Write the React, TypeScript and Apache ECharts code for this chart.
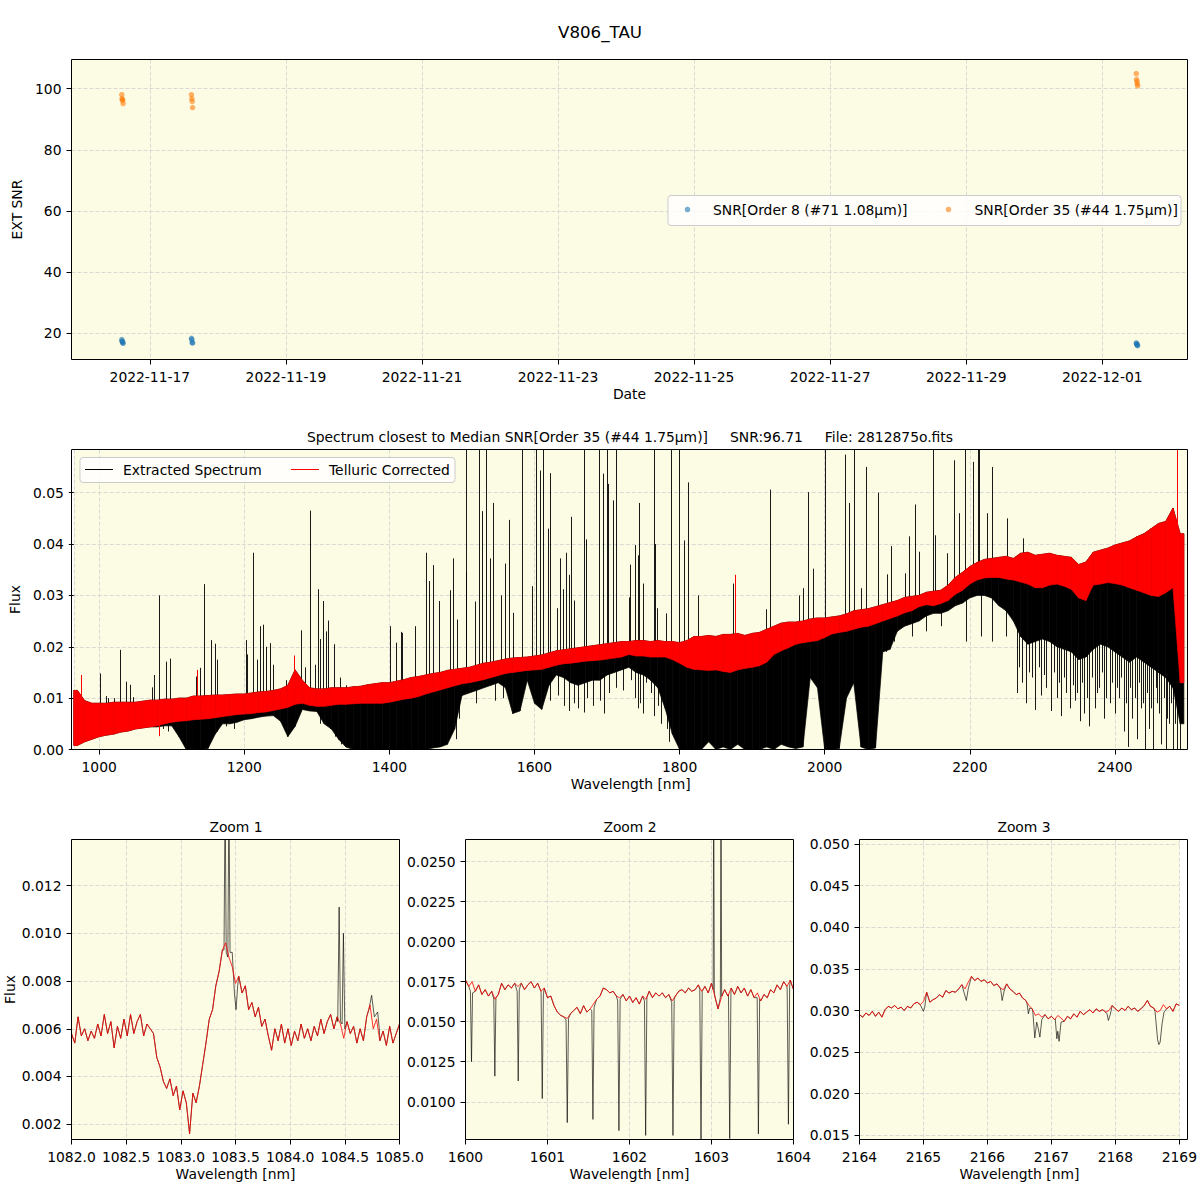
import React, { useEffect, useRef } from "react";
import * as echarts from "echarts";

const FONT = "DejaVu Sans";
const FS = 13.89;
const BG = "#fcfbe3";
const GRID_COLOR = "#d0d0d0";

const TITLE = "V806_TAU";
const SUBTITLE = "Spectrum closest to Median SNR[Order 35 (#44 1.75μm)]     SNR:96.71     File: 2812875o.fits";
const LEGEND_SNR = ["SNR[Order 8 (#71 1.08μm)]", "SNR[Order 35 (#44 1.75μm)]"];
const LEGEND_SPEC = ["Extracted Spectrum", "Telluric Corrected"];
const ZOOM_TITLES = ["Zoom 1", "Zoom 2", "Zoom 3"];

// ---------- Top panel: SNR per observation ----------
const SNR_DATES = [
  "2022-11-16T14:05", "2022-11-16T14:12", "2022-11-16T14:19", "2022-11-16T14:26", "2022-11-16T14:33",
  "2022-11-17T14:40", "2022-11-17T14:48", "2022-11-17T14:56", "2022-11-17T15:04",
  "2022-12-01T12:00", "2022-12-01T12:07", "2022-12-01T12:14", "2022-12-01T12:21", "2022-12-01T12:28",
];
const SNR_ORDER8 = [18.0, 17.5, 17.3, 17.0, 16.8, 18.4, 18.0, 17.0, 16.9, 16.9, 16.6, 16.5, 16.2, 16.0];
const SNR_ORDER35 = [98.0, 96.7, 96.3, 96.2, 95.1, 98.0, 96.7, 95.8, 93.8, 104.9, 103.0, 102.3, 101.5, 100.9];

// ---------- Middle panel: spectrum envelope per 10 nm bin centre (units of 1e-3) ----------
const SPEC_BIN_START = 965;
const SPEC_BIN_WIDTH = 10;
const RED_LO = [
  0.8, 1.5, 2.0, 2.5, 2.8, 3.0, 3.4, 3.6, 4.0, 4.2,
  4.4, 4.6, 5.0, 5.3, 5.5, 5.6, 5.8, 5.9, 6.0, 6.2,
  6.4, 6.6, 6.8, 6.9, 7.0, 7.2, 7.3, 7.6, 7.9, 8.2,
  8.8, 9.0, 8.6, 8.4, 8.4, 8.6, 8.8, 8.8, 8.9, 9.0,
  9.0, 9.0, 9.0, 9.2, 9.5, 9.8, 10.0, 10.3, 10.8, 11.2,
  11.6, 12.0, 12.4, 12.8, 13.0, 13.3, 13.6, 14.0, 14.4, 14.8,
  15.0, 15.2, 15.4, 15.5, 15.6, 16.0, 16.4, 16.7, 16.8, 17.0,
  17.2, 17.3, 17.4, 17.6, 17.8, 18.0, 18.5, 18.2, 18.2, 18.0,
  18.0, 18.0, 17.5, 16.8, 16.0, 15.6, 15.5, 15.4, 15.5, 15.2,
  15.0, 15.5, 15.8, 16.0, 16.3, 17.0, 18.5, 19.2, 19.8, 20.5,
  20.8, 21.0, 21.2, 21.8, 22.5, 22.8, 23.0, 23.4, 23.8, 24.0,
  24.5, 25.0, 25.5, 26.0, 26.6, 27.0, 27.8, 28.2, 28.0, 28.4,
  29.0, 30.2, 31.0, 32.2, 33.0, 33.4, 33.5, 33.5, 33.2, 33.0,
  32.6, 32.2, 31.5, 31.5, 32.0, 32.2, 31.8, 31.2, 29.5, 29.0,
  32.0, 32.2, 32.5, 32.3, 32.0, 31.5, 31.0, 30.5, 30.0, 29.8,
  30.5, 31.5, 13.0,
];
const RED_HI = [
  11.5, 9.5, 9.0, 9.0, 9.0, 9.2, 9.2, 9.2, 9.2, 9.4,
  9.6, 9.6, 9.8, 9.8, 10.0, 10.0, 10.4, 10.4, 10.5, 10.6,
  10.6, 10.7, 10.8, 10.8, 11.0, 11.2, 11.3, 11.5, 11.8, 12.5,
  15.5, 13.5, 12.0, 11.8, 11.8, 12.0, 12.0, 12.0, 12.2, 12.3,
  12.6, 12.8, 13.0, 13.0, 13.3, 13.6, 14.0, 14.2, 14.5, 14.8,
  15.0, 15.4, 15.6, 15.8, 16.0, 16.4, 16.8, 17.0, 17.3, 17.6,
  17.8, 17.9, 18.0, 18.2, 18.4, 18.8, 19.2, 19.4, 19.6, 19.8,
  20.0, 20.2, 20.4, 20.6, 20.8, 21.0, 21.0, 21.2, 21.2, 21.0,
  21.2, 21.0, 21.0, 20.8, 21.2, 22.0, 22.0, 22.2, 22.0, 22.4,
  22.4, 22.6, 22.2, 22.6, 22.8, 23.4, 24.0, 24.6, 24.8, 24.8,
  25.0, 25.4, 25.6, 25.6, 25.8, 26.0, 26.4, 27.0, 27.2, 27.4,
  27.8, 28.2, 28.6, 29.0, 29.6, 29.8, 30.0, 30.6, 30.8, 31.0,
  32.0, 33.5, 34.5, 35.6, 36.4, 37.0, 37.2, 37.4, 37.6, 37.2,
  38.2, 38.4, 37.8, 38.0, 38.2, 37.8, 37.6, 37.4, 36.0, 36.5,
  38.4, 38.8, 39.2, 39.8, 40.2, 40.6, 41.4, 42.0, 43.0, 44.0,
  44.4, 47.0, 42.0,
];
const BLACK_LO = [
  0.8, 1.5, 2.0, 2.5, 2.8, 3.0, 3.4, 3.6, 4.0, 4.2,
  4.4, 4.4, 4.6, 4.6, 2.5, 0.0, 0.0, 0.0, 0.2, 3.0,
  5.0, 5.0, 5.3, 5.8, 6.0, 6.3, 6.5, 6.6, 5.5, 2.5,
  4.5, 7.8, 7.5, 7.4, 5.0, 4.0, 2.0, 0.5, 0.0, 0.0,
  0.0, 0.0, 0.0, 0.0, 0.0, 0.0, 0.0, 0.0, 0.0, 0.3,
  0.5, 1.0, 4.0, 10.5, 11.0, 11.5, 12.0, 12.5, 13.0, 12.0,
  7.0, 7.5, 13.5, 9.0, 7.8, 12.5, 14.5, 14.0, 13.0, 12.5,
  13.0, 13.5, 13.5, 14.5, 15.0, 15.5, 16.0, 15.0, 14.5, 13.5,
  12.0, 8.0, 3.0, 0.0, 0.0, 0.0, 0.0, 1.5, 0.0, 0.5,
  0.0, 1.0, 0.0, 0.0, 0.0, 0.5, 0.0, 1.0, 0.5, 0.2,
  0.5, 14.0, 12.0, 0.0, 0.0, 0.2, 10.0, 13.0, 0.5, 0.0,
  0.3, 19.0, 19.5, 23.0, 24.0, 24.5, 25.0, 26.0, 26.5, 26.5,
  27.0, 28.0, 28.5, 29.5, 30.0, 30.0, 29.5, 28.0, 27.0, 25.0,
  22.0, 20.5, 21.0, 21.5, 21.0, 20.0, 19.5, 19.0, 17.5, 18.0,
  19.5, 20.5, 20.0, 19.0, 18.0, 17.0, 18.0, 17.0, 16.0, 15.0,
  14.0, 12.0, 5.0,
];
// emission lines of the extracted spectrum: [nm, peak (1e-3)]
const BLACK_SPIKES = [
  [1001, 14.8], [1009, 10.4], [1012, 10.0], [1021, 10.0], [1029, 19.4], [1037, 13.2], [1043, 12.6], [1047, 10.2],
  [1073, 12.1], [1076, 14.5], [1083, 30.0], [1092, 17.1], [1097, 17.7], [1133, 14.2], [1139, 15.9], [1144, 32.2],
  [1154, 21.3], [1159, 20.6], [1162, 17.5], [1202, 21.3], [1204, 18.5], [1212, 38.3], [1218, 17.5], [1222, 24.0],
  [1226, 24.3], [1230, 20.0], [1235, 20.7], [1239, 16.5], [1258, 13.5], [1278, 23.2], [1283, 16.0], [1290, 46.5],
  [1297, 16.5], [1302, 31.2], [1305, 21.5], [1308, 28.9], [1312, 23.0], [1315, 25.1], [1323, 20.5], [1332, 14.0],
  [1340, 12.5], [1401, 24.0], [1409, 20.8], [1416, 22.9], [1418, 22.7], [1435, 24.0], [1451, 38.3], [1455, 32.8],
  [1460, 35.9], [1469, 28.9], [1483, 31.0], [1488, 37.2], [1493, 25.3], [1505, 60], [1506, 34.6], [1518, 28.8],
  [1524, 60], [1528, 46.4], [1533, 60], [1539, 37.2], [1543, 48.0], [1554, 30.0], [1559, 36.2], [1565, 44.7],
  [1570, 26.6], [1583, 60], [1597, 31.8], [1602, 60], [1607, 54.3], [1612, 60], [1618, 43.0], [1622, 53.8],
  [1631, 27.5], [1635, 37.2], [1639, 31.2], [1644, 38.3], [1648, 34.0], [1650, 45.3], [1654, 29.0], [1668, 60],
  [1671, 40.9], [1689, 60], [1694, 53.7], [1700, 60], [1701, 51.7], [1708, 48.5], [1712, 60], [1730, 29.6],
  [1731, 36.0], [1738, 39.8], [1742, 37.8], [1744, 48.0], [1750, 32.3], [1764, 60], [1766, 40.0], [1769, 27.5],
  [1781, 26.5], [1788, 60], [1799, 60], [1806, 40.7], [1811, 52.0], [1825, 30.0], [1874, 32.3], [1919, 27.3],
  [1924, 50.6], [1964, 30.0], [1970, 31.4], [1977, 50.1], [1984, 35.2], [2001, 60], [2028, 57.4], [2034, 48.0],
  [2041, 60], [2050, 31.4], [2057, 55.0], [2073, 50.0], [2086, 34.1], [2091, 39.6], [2111, 34.3], [2116, 41.5],
  [2125, 47.7], [2130, 38.5], [2149, 60], [2152, 41.7], [2169, 38.2], [2178, 56.3], [2185, 46.0], [2194, 60],
  [2204, 56.0], [2211, 60], [2212, 60], [2224, 46.0], [2230, 55.0], [2251, 45.0], [2273, 41.1],
];
// telluric absorption lines of the extracted spectrum: [nm, minimum (1e-3)]
const BLACK_DIPS = [
  [1088, 4.0], [1095, 3.5], [1163, 3.5], [1175, 4.5], [1186, 4.0], [1305, 5.0], [1318, 4.0], [1325, 2.5],
  [1333, 1.0], [1492, 2.0], [1496, 6.0], [1520, 9.0], [1545, 9.5], [1556, 10.0], [1622, 9.5], [1632, 10.5],
  [1640, 8.5], [1648, 7.5], [1655, 9.0], [1660, 8.0], [1668, 7.2], [1672, 10.0], [1680, 8.5], [1690, 9.5],
  [1696, 7.0], [1703, 11.0], [1712, 12.0], [1722, 11.5], [1733, 13.5], [1738, 10.0], [1742, 8.0], [1745, 9.0],
  [1750, 7.0], [1754, 13.0], [1760, 11.0], [1765, 6.5], [1770, 8.5], [1774, 5.0], [1778, 12.0], [1783, 4.0],
  [1786, 1.5], [2085, 19.0], [2095, 21.0], [2120, 22.0], [2140, 23.0], [2160, 24.0], [2195, 21.0], [2215, 22.0],
  [2230, 21.0], [2250, 22.0], [2265, 11.0], [2268, 16.0], [2272, 13.0], [2278, 9.0], [2282, 15.0], [2285, 14.0],
  [2290, 7.7], [2295, 16.0], [2298, 10.5], [2302, 14.5], [2305, 12.0], [2312, 7.5], [2316, 15.0], [2320, 10.0],
  [2323, 13.0], [2326, 6.5], [2330, 14.0], [2333, 11.0], [2338, 8.0], [2342, 12.5], [2345, 9.5], [2348, 11.0],
  [2352, 5.5], [2355, 13.0], [2358, 7.0], [2361, 10.0], [2364, 4.5], [2368, 14.0], [2372, 8.0], [2375, 11.0],
  [2378, 12.0], [2382, 15.0], [2385, 6.0], [2388, 10.0], [2393, 9.0], [2396, 13.0], [2400, 7.0], [2403, 12.0],
  [2406, 10.0], [2409, 14.0], [2412, 3.5], [2415, 9.0], [2418, 0.5], [2421, 12.0], [2424, 6.0], [2427, 10.0],
  [2430, 2.0], [2433, 13.0], [2436, 8.0], [2439, 9.0], [2442, 0.0], [2444, 11.0], [2447, 4.0], [2450, 8.0],
  [2453, 0.0], [2456, 12.0], [2458, 9.0], [2461, 7.0], [2463, 1.0], [2467, 10.0], [2470, 0.0], [2472, 6.0],
  [2474, 5.0], [2477, 9.0], [2480, 0.0], [2483, 5.0], [2486, 0.0], [2490, 0.0],
];
// single-pixel excursions of the telluric-corrected spectrum: [nm, value (1e-3)]
const RED_SPIKES = [[975, 14.5], [1083, 2.6], [1135, 15.5], [1268, 18.3], [1876, 34.0], [2485, 60]];

// ---------- Zoom panels (units of 1e-3) ----------
const Z1_START = 1082.0;
const Z1_STEP = 0.03;
const Z1_RED = [
  5.8, 5.4, 6.5, 5.7, 6.0, 5.5, 5.9, 5.6, 6.2, 5.7,
  6.6, 5.8, 6.3, 5.2, 6.1, 5.6, 6.4, 5.7, 6.6, 5.8,
  6.3, 6.6, 5.7, 6.2, 6.0, 5.8, 4.8, 4.4, 3.8, 3.5,
  3.9, 3.2, 3.6, 2.6, 3.4, 2.9, 1.6, 3.3, 2.9, 3.6,
  4.5, 5.4, 6.4, 6.8, 7.8, 8.4, 9.3, 9.6, 9.0, 8.6,
  7.9, 8.2, 7.5, 7.8, 6.8, 7.1, 6.5, 6.9, 6.1, 6.4,
  5.7, 5.1, 6.0, 5.5, 6.2, 5.4, 6.0, 5.3, 5.9, 5.5,
  6.2, 5.6, 6.0, 5.5, 6.1, 5.7, 6.4, 5.8, 6.3, 6.6,
  6.0, 6.5, 6.2, 5.6, 6.3, 5.8, 6.1, 5.4, 6.0, 5.5,
  6.5, 7.0, 6.0, 6.4, 5.5, 5.9, 5.3, 6.1, 5.4, 5.8,
  6.2,
];
const Z1_BLACK = [
  [[1083.395, 9.3], [1083.405, 16.0], [1083.415, 9.2], [1083.43, 9.0], [1083.44, 16.0], [1083.45, 9.2], [1083.47, 9.2], [1083.49, 7.5], [1083.505, 6.8], [1083.52, 7.8]],
  [[1084.435, 6.3], [1084.448, 11.1], [1084.46, 6.3], [1084.475, 6.2], [1084.487, 10.0], [1084.50, 6.0]],
  [[1084.72, 6.8], [1084.745, 7.4], [1084.77, 6.5], [1084.80, 6.7], [1084.815, 6.0]],
];
const Z2_START = 1600.0;
const Z2_STEP = 0.04;
const Z2_RED = [
  17.6, 17.2, 17.5, 16.9, 17.3, 16.7, 17.0, 16.6, 16.9, 16.4,
  16.7, 17.4, 17.0, 17.3, 17.1, 17.4, 17.2, 17.4, 17.0, 17.3,
  17.5, 17.1, 17.4, 16.9, 17.1, 16.5, 16.6, 16.0, 15.6, 15.4,
  15.3, 15.2, 15.5, 15.7, 15.9, 15.5, 16.0, 15.6, 15.8, 16.1,
  16.4, 16.6, 17.1, 17.0, 16.8, 16.9, 16.6, 16.5, 16.7, 16.3,
  16.6, 16.2, 16.5, 16.1, 16.6, 16.4, 16.9, 16.5, 16.8, 16.6,
  16.8, 16.5, 16.7, 16.3, 16.6, 16.9, 17.0, 16.8, 17.1, 16.9,
  17.0, 17.3, 16.9, 17.2, 16.8, 17.4, 16.6, 15.8, 16.5, 17.0,
  16.6, 17.1, 16.7, 17.2, 16.8, 17.1, 16.6, 17.0, 16.5, 16.8,
  16.3, 16.7, 16.5, 17.0, 16.8, 17.3, 17.0, 17.5, 17.2, 17.6,
  17.0,
];
const Z2_BLACK = [
  [[1600.060, 16.9], [1600.073, 12.5], [1600.086, 16.8]],
  [[1600.345, 16.4], [1600.358, 11.6], [1600.371, 16.5]],
  [[1600.630, 16.9], [1600.643, 11.3], [1600.656, 17.0]],
  [[1600.922, 16.8], [1600.936, 10.2], [1600.950, 16.7]],
  [[1601.226, 15.1], [1601.241, 8.7], [1601.256, 15.2]],
  [[1601.540, 15.7], [1601.554, 8.9], [1601.568, 15.9]],
  [[1601.856, 16.3], [1601.871, 8.2], [1601.886, 16.4]],
  [[1602.182, 16.3], [1602.197, 7.9], [1602.212, 16.5]],
  [[1602.515, 16.2], [1602.530, 7.9], [1602.545, 16.4]],
  [[1602.857, 17.0], [1602.872, 7.4], [1602.887, 16.9]],
  [[1603.020, 17.0], [1603.027, 30.0], [1603.034, 17.0]],
  [[1603.108, 16.5], [1603.116, 30.0], [1603.124, 16.6]],
  [[1603.207, 16.7], [1603.222, 7.7], [1603.237, 16.8]],
  [[1603.557, 16.5], [1603.572, 8.0], [1603.587, 16.4]],
  [[1603.923, 17.0], [1603.938, 8.6], [1603.953, 17.2]],
];
const Z2_Y_TICKS = [0.01, 0.0125, 0.015, 0.0175, 0.02, 0.0225, 0.025];
const Z3_START = 2164.0;
const Z3_STEP = 0.05;
const Z3_RED = [
  29.5, 29.2, 29.7, 29.4, 29.9, 29.3, 29.8, 29.2, 30.1, 30.5,
  30.3, 30.6, 30.2, 30.4, 30.0, 30.5, 30.3, 30.8, 31.0, 30.7,
  31.1, 32.2, 31.0, 31.3, 31.5, 31.9, 31.6, 32.4, 32.1, 32.3,
  32.2, 32.6, 33.1, 32.6, 33.4, 34.1, 33.6, 33.9, 33.5, 33.7,
  33.3, 33.5, 33.0, 33.2, 32.7, 32.5, 33.2, 32.6, 32.3, 31.9,
  32.1, 31.5, 31.2, 30.6, 30.2, 29.4, 29.6, 29.2, 29.5, 29.0,
  29.3, 28.9, 29.4, 29.1, 28.7, 29.3, 29.0, 29.6, 29.2, 29.9,
  29.5, 29.8, 30.1, 29.7, 30.2, 29.9, 30.1, 29.8, 30.0, 30.6,
  30.2, 29.9, 30.3, 30.0, 30.5, 30.1, 30.3, 29.9, 30.2, 30.6,
  31.2, 30.5, 30.3, 29.8, 30.0, 30.7, 30.2, 30.5, 29.9, 30.8,
  30.6,
];
const Z3_BLACK = [
  [[2164.98, 30.2], [2165.0, 29.9], [2165.02, 30.4]],
  [[2165.64, 32.0], [2165.67, 31.2], [2165.70, 32.6]],
  [[2166.21, 32.4], [2166.23, 31.2], [2166.26, 32.3]],
  [[2166.62, 30.8], [2166.64, 29.6], [2166.66, 30.3]],
  [[2166.71, 29.8], [2166.74, 26.7], [2166.77, 28.6], [2166.79, 28.0], [2166.82, 26.8], [2166.85, 28.9]],
  [[2167.06, 29.0], [2167.085, 26.6], [2167.10, 27.5], [2167.12, 26.3], [2167.15, 28.6]],
  [[2167.87, 29.6], [2167.89, 28.8], [2167.92, 29.5]],
  [[2168.62, 29.9], [2168.66, 26.5], [2168.68, 25.9], [2168.70, 26.2], [2168.73, 28.4], [2168.76, 29.8]],
];

// ---------- helpers ----------
const E3 = 1e-3;
const DAY_MS = 86400000;
const DATE_ORIGIN = Date.UTC(2022, 10, 17);
const toDay = (s: string) => (Date.parse(s + ":00Z") - DATE_ORIGIN) / DAY_MS;
const fmtDay = (v: number) => new Date(DATE_ORIGIN + Math.round(v * DAY_MS)).toISOString().slice(0, 10);

const MID_XMIN = 965;
const MID_XMAX = 2500;
const MID_YMAX = 0.0584;

// panel rectangles [left, top, width, height]
const PANELS = [
  [71.5, 59.5, 1116, 300],
  [71.5, 449.5, 1116, 300],
  [71.5, 839.5, 328, 300],
  [465.5, 839.5, 328, 300],
  [859.5, 839.5, 328, 300],
];

function binIndex(nm: number) {
  return Math.max(0, Math.min(RED_LO.length - 1, Math.floor((nm - SPEC_BIN_START) / SPEC_BIN_WIDTH)));
}
const binCentre = (i: number) => SPEC_BIN_START + (i + 0.5) * SPEC_BIN_WIDTH;

// band segments between neighbouring bin centres: [x0, x1, lo0, lo1, hi0, hi1]
function bandSegments(lo: number[], hi: number[]) {
  const n = lo.length;
  const segs: number[][] = [];
  segs.push([SPEC_BIN_START, binCentre(0), lo[0] * E3, lo[0] * E3, hi[0] * E3, hi[0] * E3]);
  for (let i = 0; i < n - 1; i++) {
    segs.push([binCentre(i), binCentre(i + 1), lo[i] * E3, lo[i + 1] * E3, hi[i] * E3, hi[i + 1] * E3]);
  }
  segs.push([binCentre(n - 1), SPEC_BIN_START + n * SPEC_BIN_WIDTH, lo[n - 1] * E3, lo[n - 1] * E3, hi[n - 1] * E3, hi[n - 1] * E3]);
  return segs;
}

function redPoints(start: number, step: number, vals: number[]) {
  return vals.map((v, i) => [+(start + step * i).toFixed(4), v * E3]);
}
function blackPoints(red: number[][], groups: number[][][]) {
  const spans = groups.map((g) => [g[0][0], g[g.length - 1][0]]);
  const kept = red.filter((p) => !spans.some((s) => p[0] >= s[0] - 1e-9 && p[0] <= s[1] + 1e-9));
  const extra: number[][] = [];
  groups.forEach((g) => g.forEach((p) => extra.push([p[0], p[1] * E3])));
  return kept.concat(extra).sort((a, b) => a[0] - b[0]);
}

function bandRenderer(color: string) {
  return (params: any, api: any) => {
    const x0 = api.value(0);
    const x1 = api.value(1);
    const pts = [
      api.coord([x0, Math.min(api.value(4), MID_YMAX)]),
      api.coord([x1, Math.min(api.value(5), MID_YMAX)]),
      api.coord([x1, api.value(3)]),
      api.coord([x0, api.value(2)]),
    ];
    return {
      type: "polygon",
      shape: { points: pts },
      style: { fill: color, stroke: color, lineWidth: 0.7 },
    };
  };
}
function lineRenderer(color: string, width: number, opacity: number) {
  return (params: any, api: any) => {
    const a = api.coord([api.value(0), api.value(1)]);
    const b = api.coord([api.value(0), Math.min(api.value(2), MID_YMAX)]);
    const x = Math.round(a[0]) + 0.5;
    return {
      type: "line",
      shape: { x1: x, y1: a[1], x2: x, y2: b[1] },
      style: { stroke: color, lineWidth: width, opacity },
    };
  };
}

function valueAxis(gridIndex: number, min: number, max: number, opts: any = {}) {
  const { showMin = false, showMax = false, formatter, name, nameGap, splitNumber, customValues } = opts;
  const ax: any = {
    type: "value",
    gridIndex,
    min,
    max,
    axisLine: { show: false, onZero: false },
    axisTick: { show: true, inside: false, length: 5, lineStyle: { color: "#000", width: 1 } },
    axisLabel: {
      color: "#000",
      fontFamily: FONT,
      fontSize: FS,
      margin: 10,
      showMinLabel: showMin,
      showMaxLabel: showMax,
    },
    splitLine: { show: true, lineStyle: { color: GRID_COLOR, width: 0.8, type: [4, 2] } },
  };
  if (formatter) ax.axisLabel.formatter = formatter;
  if (splitNumber) ax.splitNumber = splitNumber;
  if (customValues) {
    ax.axisTick.customValues = customValues;
    ax.axisLabel.customValues = customValues;
  }
  if (name) {
    ax.name = name;
    ax.nameLocation = "middle";
    ax.nameGap = nameGap;
    ax.nameTextStyle = { color: "#000", fontFamily: FONT, fontSize: FS };
  }
  return ax;
}

function text(t: string, x: number, y: number, size = FS, align = "center") {
  return {
    type: "text",
    x,
    y,
    z: 100,
    style: {
      text: t,
      fill: "#000",
      fontFamily: FONT,
      fontSize: size,
      align,
      verticalAlign: "middle",
      textAlign: align,
      textVerticalAlign: "middle",
    },
  };
}

function buildOption() {
  const gridBase = { show: true, backgroundColor: BG, borderWidth: 0, containLabel: false };

  const blackBand = bandSegments(BLACK_LO, RED_HI);
  const redBand = bandSegments(RED_LO, RED_HI);
  const blackSpikes = BLACK_SPIKES.map(([nm, pk]) => [nm, RED_LO[binIndex(nm)] * E3, pk * E3]);
  const blackDips = BLACK_DIPS.map(([nm, mn]) => [nm, RED_LO[binIndex(nm)] * E3, mn * E3]);
  const redSpikes = RED_SPIKES.map(([nm, v]) => {
    const i = binIndex(nm);
    return [nm, ((RED_LO[i] + RED_HI[i]) / 2) * E3, v * E3];
  });

  const z1Red = redPoints(Z1_START, Z1_STEP, Z1_RED);
  const z2Red = redPoints(Z2_START, Z2_STEP, Z2_RED);
  const z3Red = redPoints(Z3_START, Z3_STEP, Z3_RED);
  const z1Black = blackPoints(z1Red, Z1_BLACK);
  const z2Black = blackPoints(z2Red, Z2_BLACK);
  const z3Black = blackPoints(z3Red, Z3_BLACK);

  const blackLine = { color: "#000", width: 0.8, opacity: 0.8 };
  const redLine = { color: "#ff0000", width: 1, opacity: 0.8 };
  const zoomLine = (idx: number, data: number[][], style: any, name: string) => ({
    type: "line",
    name,
    xAxisIndex: idx,
    yAxisIndex: idx,
    data,
    symbol: "none",
    showSymbol: false,
    lineStyle: style,
    itemStyle: { color: style.color },
    clip: true,
    silent: true,
  });

  const f2 = (v: number) => v.toFixed(2);
  const f3 = (v: number) => v.toFixed(3);
  const f4 = (v: number) => v.toFixed(4);
  const f1 = (v: number) => v.toFixed(1);
  const f0 = (v: number) => v.toFixed(0);

  const frames = PANELS.map(([l, t, w, h]) => ({
    type: "rect",
    z: 90,
    silent: true,
    shape: { x: l, y: t, width: w, height: h },
    style: { fill: "none", stroke: "#000", lineWidth: 1 },
  }));

  return {
    animation: false,
    backgroundColor: "#ffffff",
    textStyle: { fontFamily: FONT },
    grid: PANELS.map(([l, t, w, h]) => ({ ...gridBase, left: l, top: t, width: w, height: h })),
    xAxis: [
      valueAxis(0, -1.152, 15.253, { formatter: fmtDay, splitNumber: 8, name: "Date", nameGap: 27 }),
      valueAxis(1, MID_XMIN, MID_XMAX, { formatter: f0, splitNumber: 7, name: "Wavelength [nm]", nameGap: 27 }),
      valueAxis(2, 1082, 1085, { formatter: f1, showMin: true, showMax: true, name: "Wavelength [nm]", nameGap: 27 }),
      valueAxis(3, 1600, 1604, { formatter: f0, showMin: true, showMax: true, name: "Wavelength [nm]", nameGap: 27 }),
      valueAxis(4, 2164, 2169, { formatter: f0, showMin: true, showMax: true, name: "Wavelength [nm]", nameGap: 27 }),
    ],
    yAxis: [
      valueAxis(0, 11.5, 109.5, { formatter: f0, name: "EXT SNR", nameGap: 42 }),
      valueAxis(1, 0, MID_YMAX, { formatter: f2, showMin: true, name: "Flux", nameGap: 46 }),
      valueAxis(2, 0.00136, 0.01393, { formatter: f3, splitNumber: 6, name: "Flux", nameGap: 55 }),
      valueAxis(3, 0.007646, 0.026375, { formatter: f4, customValues: Z2_Y_TICKS, showMin: true, showMax: true }),
      valueAxis(4, 0.01449, 0.05056, { formatter: f3, splitNumber: 8 }),
    ],
    series: [
      {
        type: "scatter",
        name: LEGEND_SNR[0],
        xAxisIndex: 0,
        yAxisIndex: 0,
        data: SNR_DATES.map((d, i) => [toDay(d), SNR_ORDER8[i]]),
        symbolSize: 5.5,
        itemStyle: { color: "#1f77b4", opacity: 0.6 },
        silent: true,
      },
      {
        type: "scatter",
        name: LEGEND_SNR[1],
        xAxisIndex: 0,
        yAxisIndex: 0,
        data: SNR_DATES.map((d, i) => [toDay(d), SNR_ORDER35[i]]),
        symbolSize: 5.5,
        itemStyle: { color: "#ff7f0e", opacity: 0.6 },
        silent: true,
      },
      { type: "custom", name: LEGEND_SPEC[0], xAxisIndex: 1, yAxisIndex: 1, clip: true, silent: true, data: blackBand, renderItem: bandRenderer("#000000") },
      { type: "custom", name: LEGEND_SPEC[0] + " lines", xAxisIndex: 1, yAxisIndex: 1, clip: true, silent: true, data: blackSpikes, renderItem: lineRenderer("#000000", 1, 0.9) },
      { type: "custom", name: LEGEND_SPEC[0] + " dips", xAxisIndex: 1, yAxisIndex: 1, clip: true, silent: true, data: blackDips, renderItem: lineRenderer("#000000", 1, 0.9) },
      { type: "custom", name: LEGEND_SPEC[1], xAxisIndex: 1, yAxisIndex: 1, clip: true, silent: true, data: redBand, renderItem: bandRenderer("#ff0000") },
      { type: "custom", name: LEGEND_SPEC[1] + " lines", xAxisIndex: 1, yAxisIndex: 1, clip: true, silent: true, data: redSpikes, renderItem: lineRenderer("#ff0000", 1, 1) },
      zoomLine(2, z1Black, blackLine, "z1 extracted"),
      zoomLine(2, z1Red, redLine, "z1 telluric"),
      zoomLine(3, z2Black, blackLine, "z2 extracted"),
      zoomLine(3, z2Red, redLine, "z2 telluric"),
      zoomLine(4, z3Black, blackLine, "z3 extracted"),
      zoomLine(4, z3Red, redLine, "z3 telluric"),
    ],
    graphic: [
      ...frames,
      text(TITLE, 600, 32, 16.67),
      text(SUBTITLE, 630, 437),
      text(ZOOM_TITLES[0], 236, 827),
      text(ZOOM_TITLES[1], 630, 827),
      text(ZOOM_TITLES[2], 1024, 827),
      // top legend
      {
        type: "rect",
        z: 99,
        shape: { x: 668, y: 195.5, width: 513, height: 30, r: 3 },
        style: { fill: "rgba(255,255,255,0.8)", stroke: "#cccccc", lineWidth: 1 },
      },
      { type: "circle", z: 100, shape: { cx: 687.5, cy: 209.5, r: 2.8 }, style: { fill: "#1f77b4", opacity: 0.6 } },
      text(LEGEND_SNR[0], 713, 209.5, FS, "left"),
      { type: "circle", z: 100, shape: { cx: 948.5, cy: 209.5, r: 2.8 }, style: { fill: "#ff7f0e", opacity: 0.6 } },
      text(LEGEND_SNR[1], 974.5, 209.5, FS, "left"),
      // spectrum legend
      {
        type: "rect",
        z: 99,
        shape: { x: 80, y: 457.5, width: 375, height: 25, r: 3 },
        style: { fill: "rgba(255,255,255,0.8)", stroke: "#cccccc", lineWidth: 1 },
      },
      { type: "line", z: 100, shape: { x1: 85, y1: 469.5, x2: 113, y2: 469.5 }, style: { stroke: "#000", lineWidth: 1 } },
      text(LEGEND_SPEC[0], 123, 469.5, FS, "left"),
      { type: "line", z: 100, shape: { x1: 291, y1: 469.5, x2: 319, y2: 469.5 }, style: { stroke: "#ff0000", lineWidth: 1 } },
      text(LEGEND_SPEC[1], 329, 469.5, FS, "left"),
    ],
  };
}

export default function App() {
  const ref = useRef<HTMLDivElement>(null);
  useEffect(() => {
    if (!ref.current) return;
    const chart = echarts.init(ref.current, null, { renderer: "svg" });
    chart.setOption(buildOption() as any);
    return () => chart.dispose();
  }, []);
  return <div ref={ref} style={{ position: "absolute", left: 0, top: 0, width: 1200, height: 1200, background: "#fff" }} />;
}
